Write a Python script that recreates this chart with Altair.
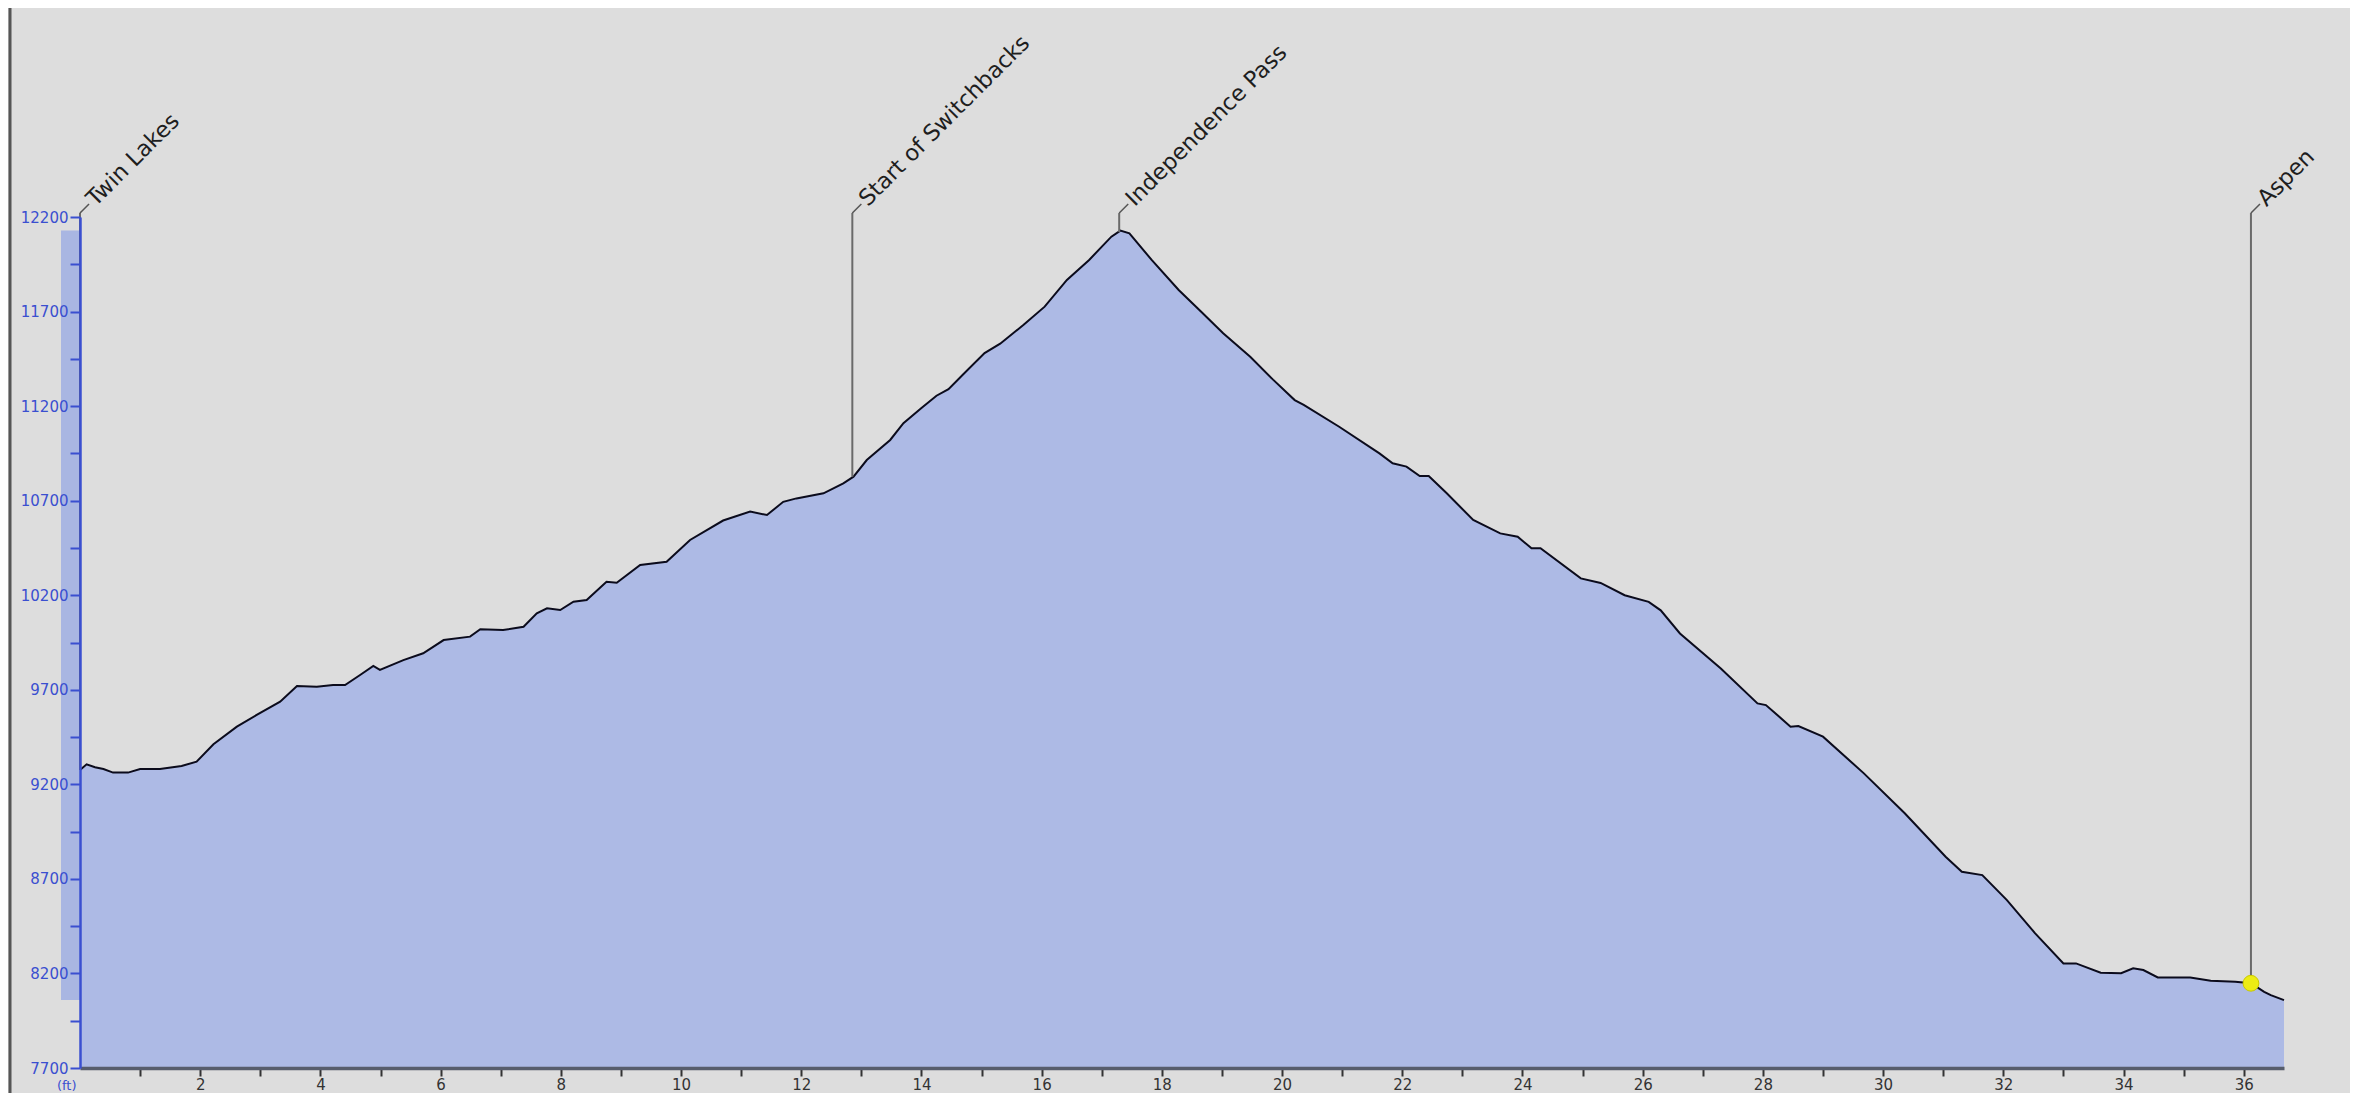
import altair as alt
import pandas as pd

# ---- profile data (miles, elevation ft) ----
MILES = [0.00, 0.11, 0.25, 0.39, 0.55, 0.80, 1.00, 1.33, 1.69, 1.94,
         2.22, 2.61, 2.94, 3.33, 3.61, 3.94, 4.21, 4.41, 4.66, 4.88,
         4.99, 5.38, 5.71, 6.05, 6.49, 6.66, 7.04, 7.38, 7.60, 7.77,
         7.99, 8.21, 8.43, 8.76, 8.93, 9.32, 9.76, 10.15, 10.70, 11.15,
         11.43, 11.70, 11.92, 12.37, 12.70, 12.87, 13.09, 13.48, 13.70, 14.00,
         14.25, 14.45, 14.70, 15.05, 15.31, 15.70, 16.05, 16.42, 16.79, 17.16,
         17.31, 17.46, 17.83, 18.28, 18.65, 19.02, 19.47, 19.85, 20.21, 20.36,
         20.95, 21.62, 21.84, 22.07, 22.29, 22.44, 22.74, 23.18, 23.63, 23.92,
         24.15, 24.30, 24.97, 25.30, 25.70, 26.10, 26.30, 26.62, 27.30, 27.91,
         28.05, 28.46, 28.59, 29.00, 29.68, 30.36, 31.04, 31.31, 31.65, 32.06,
         32.53, 33.00, 33.21, 33.62, 33.96, 34.16, 34.33, 34.57, 35.11, 35.45,
         35.86, 36.12, 36.34, 36.45, 36.67]
ELEV = [9276, 9306, 9290, 9281, 9262, 9262, 9281, 9281, 9297, 9320,
        9412, 9505, 9567, 9637, 9720, 9716, 9725, 9725, 9778, 9826,
        9805, 9857, 9893, 9963, 9981, 10020, 10016, 10033, 10104, 10131,
        10122, 10166, 10175, 10271, 10266, 10360, 10377, 10492, 10595, 10642,
        10624, 10694, 10712, 10739, 10792, 10827, 10915, 11021, 11110, 11190,
        11255, 11290, 11370, 11480, 11530, 11630, 11726, 11867, 11973, 12096,
        12128, 12114, 11973, 11814, 11700, 11585, 11461, 11340, 11232, 11206,
        11091, 10950, 10898, 10880, 10830, 10830, 10739, 10598, 10527, 10509,
        10448, 10448, 10289, 10265, 10200, 10165, 10120, 9998, 9813, 9628,
        9619, 9505, 9508, 9452, 9258, 9047, 8817, 8738, 8720, 8588,
        8412, 8253, 8253, 8204, 8201, 8227, 8218, 8179, 8179, 8161,
        8156, 8148, 8103, 8085, 8059]

# ---- waypoints ----
WP_NAMES = ["Twin Lakes", "Start of Switchbacks", "Independence Pass", "Aspen"]
WP_MILES = [0.00, 12.85, 17.29, 36.12]
WP_ELEV = [9276, 10827, 12120, 8148]
LABEL_TOP = 12221          # elevation where leader lines end
TICK_DX = 0.15             # leader tick run (miles)
TICK_DY = 48               # leader tick rise (ft)

# current position marker
POS_MILE = [36.12]
POS_ELEV = [8148]

Y_MIN, Y_MAX = 7700, 12200
Y_TICKS = list(range(7700, 12201, 250))
X_TICKS = list(range(1, 37))

W, H = 2204, 851
BLUE = "#3a4fd0"

prof = pd.DataFrame({"mile": MILES, "elev": ELEV})
wp = pd.DataFrame({"name": WP_NAMES, "mile": WP_MILES, "elev": WP_ELEV, "top": [LABEL_TOP] * len(WP_NAMES)})
pos = pd.DataFrame({"mile": POS_MILE, "elev": POS_ELEV})

xs = alt.Scale(domain=[0, MILES[-1]], nice=False, zero=False)
ys = alt.Scale(domain=[Y_MIN, Y_MAX], nice=False, zero=False)

x_axis = alt.Axis(values=X_TICKS, format="d",
                  labelExpr="datum.value % 2 == 0 ? datum.label : ''",
                  title=None, grid=False, domainColor="#575d6c", domainWidth=3.5,
                  tickColor="#333333", tickSize=8, tickWidth=2, labelFontSize=15,
                  labelColor="#333333", labelPadding=1, labelFont="DejaVu Sans",
                  labelFlush=False, labelBaseline="top", zindex=1)
y_axis = alt.Axis(values=Y_TICKS, format="d",
                  labelExpr="(datum.value - 7700) % 500 == 0 ? datum.label : ''",
                  title="(ft)", titleAngle=0, titleX=-4, titleY=H + 17, titleAlign="right",
                  titleBaseline="middle", titleColor=BLUE, titleFontSize=13,
                  titleFontWeight="normal", titleFont="DejaVu Sans",
                  grid=False, domainColor=BLUE, domainWidth=2.5, tickColor=BLUE,
                  tickSize=10, tickWidth=2, labelFontSize=15, labelColor=BLUE,
                  labelPadding=2, labelFont="DejaVu Sans", labelFlush=False, zindex=1)

base = alt.Chart(prof)

band = base.mark_rect(color="#a9b6e2").transform_aggregate(
    lo="min(elev)", hi="max(elev)"
).encode(
    x=alt.value(-19), x2=alt.value(0),
    y=alt.Y("hi:Q", scale=ys, axis=y_axis), y2="lo:Q"
)

area = base.mark_area(color="#adbae5", opacity=1).encode(
    x=alt.X("mile:Q", scale=xs, axis=x_axis),
    y=alt.Y("elev:Q", scale=ys, axis=y_axis),
    y2=alt.datum(Y_MIN),
)

line = base.mark_line(color="#0b0b1c", strokeWidth=2).encode(
    x=alt.X("mile:Q", scale=xs, axis=x_axis),
    y=alt.Y("elev:Q", scale=ys, axis=y_axis),
)

leaders = alt.Chart(wp).mark_rule(color="#6a6a6a", strokeWidth=2).encode(
    x=alt.X("mile:Q", scale=xs, axis=x_axis),
    y=alt.Y("elev:Q", scale=ys, axis=y_axis),
    y2="top:Q",
)

ticks = alt.Chart(wp).transform_calculate(
    mx=f"datum.mile + {TICK_DX}", ty=f"datum.top + {TICK_DY}"
).mark_rule(color="#555555", strokeWidth=1.5).encode(
    x=alt.X("mile:Q", scale=xs, axis=x_axis), x2="mx:Q",
    y=alt.Y("top:Q", scale=ys, axis=y_axis), y2="ty:Q",
)

labels = alt.Chart(wp).mark_text(
    angle=315, align="left", baseline="middle", dx=15, dy=0,
    font="DejaVu Sans", fontSize=22.5, color="#1e1e1e"
).encode(
    x=alt.X("mile:Q", scale=xs, axis=x_axis),
    y=alt.Y("top:Q", scale=ys, axis=y_axis),
    text="name:N",
)

dot = alt.Chart(pos).mark_circle(size=250, color="#ecec14", opacity=1,
                                 stroke="#c9c900", strokeWidth=1).encode(
    x=alt.X("mile:Q", scale=xs, axis=x_axis),
    y=alt.Y("elev:Q", scale=ys, axis=y_axis),
)

frame = alt.Chart(pd.DataFrame({"k": [0]})).mark_rule(color="#555555", strokeWidth=3).encode(
    x=alt.value(-70), y=alt.value(-209), y2=alt.value(H + 25)
)

chart = alt.layer(band, area, line, leaders, ticks, labels, dot, frame).properties(
    width=W, height=H,
    padding={"left": 72, "top": 209, "right": 66, "bottom": 25},
    autosize=alt.AutoSizeParams(type="none"),
).configure(background="#dddddd").configure_view(stroke=None)

chart.save("out.html", embed_options={"renderer": "svg", "actions": False})
